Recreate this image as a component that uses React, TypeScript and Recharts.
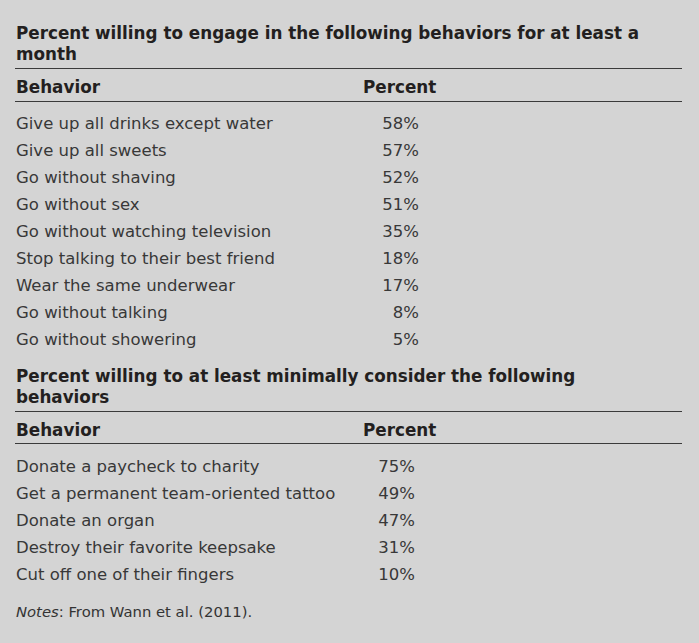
import { Bar, BarChart, XAxis, YAxis } from 'recharts';

// Section 1: willing to engage for at least a month
const engageBehaviors = [
    'Give up all drinks except water',
    'Give up all sweets',
    'Go without shaving',
    'Go without sex',
    'Go without watching television',
    'Stop talking to their best friend',
    'Wear the same underwear',
    'Go without talking',
    'Go without showering',
];
const engagePercents = [58, 57, 52, 51, 35, 18, 17, 8, 5];

// Section 2: willing to at least minimally consider
const considerBehaviors = [
    'Donate a paycheck to charity',
    'Get a permanent team-oriented tattoo',
    'Donate an organ',
    'Destroy their favorite keepsake',
    'Cut off one of their fingers',
];
const considerPercents = [75, 49, 47, 31, 10];

const FONT = '"DejaVu Sans", sans-serif';
const BG = '#d4d4d4';
const ROW_H = 27;
const BODY_SIZE = 16.5;

function Rule({ top }: { top: number }) {
    return (
        <div
            style={{
                position: 'absolute',
                left: 15,
                width: 667,
                top,
                height: 1.5,
                background: '#3a3a3a',
            }}
        />
    );
}

function Title({ top, lines }: { top: number; lines: string[] }) {
    return (
        <div
            style={{
                position: 'absolute',
                left: 16,
                top,
                fontSize: 16.8,
                fontWeight: 700,
                lineHeight: '21px',
                color: '#231f20',
                whiteSpace: 'nowrap',
            }}
        >
            {lines.map((l) => (
                <div key={l}>{l}</div>
            ))}
        </div>
    );
}

function Header({ top }: { top: number }) {
    const s = {
        position: 'absolute' as const,
        top,
        fontSize: 16.8,
        fontWeight: 700,
        lineHeight: '20px',
        color: '#231f20',
    };
    return (
        <>
            <div style={{ ...s, left: 16 }}>Behavior</div>
            <div style={{ ...s, left: 363 }}>Percent</div>
        </>
    );
}

function Rows({
    top,
    names,
    values,
    pctRight,
}: {
    top: number;
    names: string[];
    values: number[];
    pctRight: number;
}) {
    const data = names.map((name, i) => ({ name, value: values[i] }));
    const renderTick = (props: any) => {
        const { y, payload, index } = props;
        const v = values[payload?.index ?? index];
        return (
            <g>
                <text
                    x={16}
                    y={y}
                    dy={6}
                    fontSize={BODY_SIZE}
                    fill="#383838"
                    fontFamily={FONT}
                >
                    {payload.value}
                </text>
                <text
                    x={pctRight}
                    y={y}
                    dy={6}
                    textAnchor="end"
                    fontSize={BODY_SIZE}
                    fill="#383838"
                    fontFamily={FONT}
                >
                    {`${v}%`}
                </text>
            </g>
        );
    };
    return (
        <div style={{ position: 'absolute', left: 0, top }}>
            <BarChart
                width={699}
                height={names.length * ROW_H}
                data={data}
                layout="vertical"
                margin={{ top: 0, right: 0, bottom: 0, left: 0 }}
            >
                <XAxis type="number" domain={[0, 100]} hide />
                <YAxis
                    type="category"
                    dataKey="name"
                    width={440}
                    axisLine={false}
                    tickLine={false}
                    interval={0}
                    tick={renderTick}
                />
                <Bar dataKey="value" fill="none" isAnimationActive={false} />
            </BarChart>
        </div>
    );
}

export default function App() {
    return (
        <div
            style={{
                position: 'absolute',
                left: 0,
                top: 0,
                width: 699,
                height: 643,
                background: BG,
                fontFamily: FONT,
                overflow: 'hidden',
            }}
        >
            <Title
                top={23}
                lines={[
                    'Percent willing to engage in the following behaviors for at least a',
                    'month',
                ]}
            />
            <Rule top={67.5} />
            <Header top={77} />
            <Rule top={100.5} />
            <Rows
                top={122 - ROW_H / 2}
                names={engageBehaviors}
                values={engagePercents}
                pctRight={419}
            />

            <Title
                top={366}
                lines={[
                    'Percent willing to at least minimally consider the following',
                    'behaviors',
                ]}
            />
            <Rule top={410.5} />
            <Header top={420} />
            <Rule top={442.5} />
            <Rows
                top={465 - ROW_H / 2}
                names={considerBehaviors}
                values={considerPercents}
                pctRight={415}
            />

            <div
                style={{
                    position: 'absolute',
                    left: 16,
                    top: 603,
                    fontSize: 14.8,
                    lineHeight: '18px',
                    color: '#333',
                }}
            >
                <i>Notes</i>: From Wann et al. (2011).
            </div>
        </div>
    );
}
